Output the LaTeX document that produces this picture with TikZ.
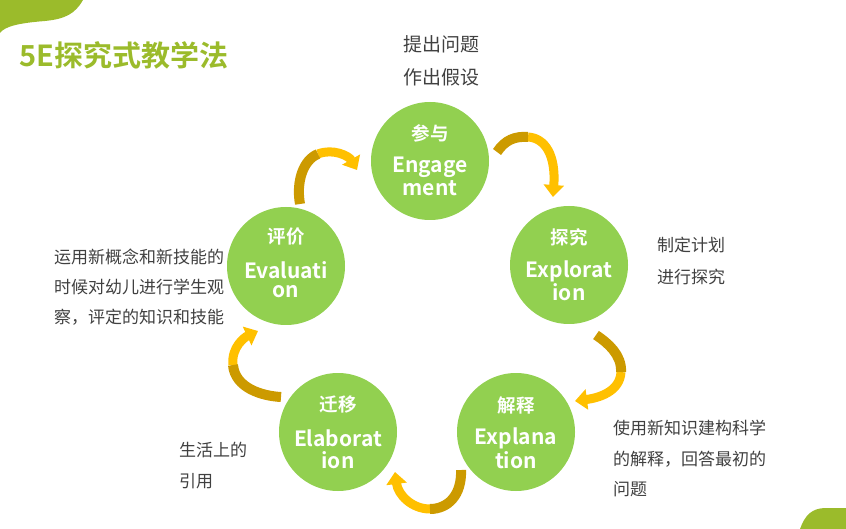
\documentclass[tikz,border=0pt]{standalone}
\usepackage{fontspec}
\newfontfamily\cjk{Noto Sans CJK SC}[BoldFont={Noto Sans CJK SC Bold}]
\usetikzlibrary{arrows.meta}
\definecolor{titlegreen}{HTML}{9BBB2B}
\definecolor{circ}{HTML}{92D050}
\definecolor{darkgold}{HTML}{CC9A00}
\definecolor{gold}{HTML}{FFC000}
\definecolor{txt}{HTML}{404040}
\tikzset{
 stage/.style={circle, fill=circ, minimum size=118pt, inner sep=0pt},
 cn/.style={text=white, inner sep=0pt, font=\cjk\bfseries\fontsize{18.5}{18.5}\selectfont},
 en/.style={text=white, inner sep=0pt, font=\cjk\bfseries\fontsize{21}{21}\selectfont},
 side/.style={text=txt, anchor=west, inner sep=0pt, font=\cjk\fontsize{17}{17}\selectfont},
 tailseg/.style={draw=darkgold, line width=10pt},
 headseg/.style={draw=gold, line width=9pt, -{Triangle[width=20pt,length=12pt]}},
}
\begin{document}
\begin{tikzpicture}[x=1pt,y=-1pt]
\useasboundingbox (0,0) rectangle (846,529);
% corner shapes
\fill[titlegreen] (0,0) -- (83,0) .. controls (75,14) and (65,19) .. (45,21) .. controls (20,23) and (5,26) .. (0,33) -- cycle;
\fill[titlegreen] (800,529) .. controls (805,515) and (812,508) .. (826,508) -- (846,508) -- (846,529) -- cycle;
% title
\node[anchor=west, inner sep=0pt, text=titlegreen, font=\cjk\bfseries\fontsize{29}{29}\selectfont] (title) at (19,55) {5E探究式教学法};
% circles
\node[stage] (eng) at (430,161) {};
\node[stage] (exo) at (569,265) {};
\node[stage] (exa) at (516,432) {};
\node[stage] (ela) at (338,432) {};
\node[stage] (eva) at (286,266) {};
% circle texts
\node[cn] (engc) at ([yshift=28pt]eng.center) {参与};
\node[en] (enge1) at ([yshift=-6pt]eng.center) {Engage};
\node[en] (enge2) at ([yshift=-27pt]eng.center) {ment};
\node[cn] (exoc) at ([yshift=28pt]exo.center) {探究};
\node[en] (exoe1) at ([yshift=-6pt]exo.center) {Explorat};
\node[en] (exoe2) at ([yshift=-27pt]exo.center) {ion};
\node[cn] (exac) at ([yshift=27pt]exa.center) {解释};
\node[en] (exae1) at ([yshift=-6pt]exa.center) {Explana};
\node[en] (exae2) at ([yshift=-28pt]exa.center) {tion};
\node[cn] (elac) at ([yshift=27pt]ela.center) {迁移};
\node[en] (elae1) at ([yshift=-6pt]ela.center) {Elaborat};
\node[en] (elae2) at ([yshift=-28pt]ela.center) {ion};
\node[cn] (evac) at ([yshift=29pt]eva.center) {评价};
\node[en] (evae1) at ([yshift=-4pt]eva.center) {Evaluati};
\node[en] (evae2) at ([yshift=-26pt]eva.center) {on};
% side texts
\node[side, font=\cjk\fontsize{19}{19}\selectfont] (t1a) at (403,44) {提出问题};
\node[side, font=\cjk\fontsize{19}{19}\selectfont] (t1b) at (403,77) {作出假设};
\node[side] (t2a) at (657,245) {制定计划};
\node[side] (t2b) at (657,277) {进行探究};
\node[side] (t3a) at (613,428) {使用新知识建构科学};
\node[side] (t3b) at (613,459) {的解释，回答最初的};
\node[side] (t3c) at (613,489) {问题};
\node[side] (t4a) at (179,450) {生活上的};
\node[side] (t4b) at (179,481) {引用};
\node[side] (t5a) at (54,257) {运用新概念和新技能的};
\node[side] (t5b) at (54,287) {时候对幼儿进行学生观};
\node[side] (t5c) at (54,317) {察，评定的知识和技能};
% arrow coordinates
\coordinate (a1s) at (300,204); \coordinate (a1m) at (318,154); \coordinate (a1e) at (357,170);
\coordinate (a2s) at (497,152); \coordinate (a2m) at (528,137); \coordinate (a2e) at (553,197);
\coordinate (a3s) at (596,335); \coordinate (a3m) at (621,372); \coordinate (a3e) at (575,401);
\coordinate (a4s) at (461,470); \coordinate (a4m) at (430,509); \coordinate (a4e) at (395,472);
\coordinate (a5s) at (281,397); \coordinate (a5m) at (233,365); \coordinate (a5e) at (258,331);
% arrows
\draw[headseg] (a1m) .. controls (333,148) and (349,156) .. (a1e);
\draw[tailseg] (a1s) .. controls (296,182) and (303,160) .. (a1m);
\draw[headseg] (a2m) .. controls (545,138) and (556,155) .. (a2e);
\draw[tailseg] (a2s) .. controls (505,140) and (515,136) .. (a2m);
\draw[headseg] (a3m) .. controls (620,392) and (598,398) .. (a3e);
\draw[tailseg] (a3s) .. controls (608,343) and (622,355) .. (a3m);
\draw[headseg] (a4m) .. controls (412,509) and (398,495) .. (a4e);
\draw[tailseg] (a4s) .. controls (462,495) and (448,509) .. (a4m);
\draw[headseg] (a5m) .. controls (231,347) and (245,337) .. (a5e);
\draw[tailseg] (a5s) .. controls (262,396) and (235,388) .. (a5m);
\end{tikzpicture}
\end{document}
